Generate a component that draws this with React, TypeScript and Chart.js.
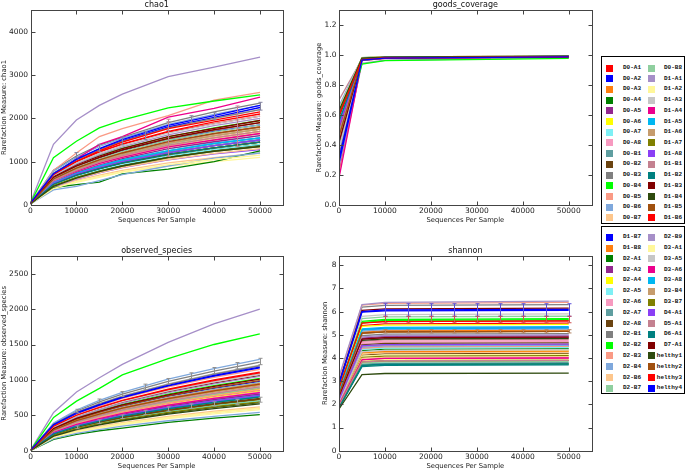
import React, { useEffect, useRef } from 'react';
import { Chart, registerables } from 'chart.js';

Chart.register(...registerables);

// ---------------- data ----------------
const sampleNames = [
  'D0-A1', 'D0-A2', 'D0-A3', 'D0-A4', 'D0-A5', 'D0-A6', 'D0-A7', 'D0-A8',
  'D0-B1', 'D0-B2', 'D0-B3', 'D0-B4', 'D0-B5', 'D0-B6', 'D0-B7', 'D0-B8',
  'D1-A1', 'D1-A2', 'D1-A3', 'D1-A4', 'D1-A5', 'D1-A6', 'D1-A7', 'D1-A8',
  'D1-B1', 'D1-B2', 'D1-B3', 'D1-B4', 'D1-B5', 'D1-B6', 'D1-B7', 'D1-B8',
  'D2-A1', 'D2-A3', 'D2-A4', 'D2-A5', 'D2-A6', 'D2-A7', 'D2-A8',
  'D2-B1', 'D2-B2', 'D2-B3', 'D2-B4', 'D2-B6', 'D2-B7', 'D2-B9',
  'D3-A1', 'D3-A5', 'D3-A6', 'D3-A8', 'D3-B4', 'D3-B7',
  'D4-A1', 'D5-A1', 'D6-A1', 'D7-A1',
  'helthy1', 'helthy2', 'helthy3', 'helthy4',
];

const seriesPalette = [
  '#ff0000', '#0000ff', '#ff7f0e', '#008000', '#93278f', '#ffff00', '#7ef0f5',
  '#f79ac0', '#5f9ea0', '#6b4411', '#808080', '#00ff00', '#fa9a85', '#7fa8dc',
  '#fdc68c', '#8fcf9f', '#a68fc8', '#fff79a', '#c6c6c6', '#ec008c', '#00b7f1',
  '#c69c6d', '#808000', '#8a3ff5', '#c48190', '#008080', '#800000', '#2e4a0e',
  '#a0500f',
];

// tick values
const depthTicks = [0, 10000, 20000, 30000, 40000, 50000];
const chao1Ticks = [0, 1000, 2000, 3000, 4000];
const goodsTicks = [0, 0.2, 0.4, 0.6, 0.8, 1.0, 1.2];
const observedTicks = [0, 500, 1000, 1500, 2000, 2500];
const shannonTicks = [0, 1, 2, 3, 4, 5, 6, 7, 8];

const chao1Depths = [10, 5000, 10000, 15000, 20000, 30000, 40000, 50000];
const chao1Values = [
  [40, 720, 1000, 1230, 1400, 1680, 1880, 2050],
  [35, 650, 900, 1080, 1260, 1500, 1700, 1850],
  [35, 600, 860, 1040, 1210, 1450, 1640, 1800],
  [30, 460, 650, 800, 930, 1130, 1280, 1400],
  [30, 500, 700, 860, 1000, 1210, 1370, 1500],
  [30, 560, 780, 940, 1090, 1330, 1500, 1650],
  [30, 530, 760, 920, 1060, 1290, 1460, 1600],
  [35, 580, 830, 1010, 1170, 1410, 1590, 1750],
  [30, 520, 730, 890, 1040, 1250, 1410, 1550],
  [30, 480, 680, 830, 960, 1170, 1320, 1450],
  [45, 800, 1130, 1380, 1560, 1900, 2150, 2350],
  [40, 680, 940, 1150, 1310, 1570, 1780, 1950],
  [50, 800, 1200, 1580, 1760, 2060, 2420, 2600],
  [45, 780, 1100, 1350, 1540, 1860, 2090, 2300],
  [25, 400, 570, 690, 800, 970, 1090, 1200],
  [35, 620, 880, 1070, 1240, 1500, 1690, 1850],
  [60, 1400, 1960, 2300, 2560, 2960, 3180, 3410],
  [30, 380, 520, 640, 760, 900, 1000, 1100],
  [40, 740, 1050, 1280, 1470, 1780, 2000, 2200],
  [45, 700, 1060, 1400, 1580, 2030, 2230, 2490],
  [30, 510, 740, 900, 1030, 1250, 1420, 1550],
  [35, 570, 810, 980, 1140, 1370, 1550, 1700],
  [30, 470, 690, 840, 970, 1170, 1320, 1450],
  [25, 420, 600, 740, 860, 1040, 1180, 1280],
  [35, 610, 860, 1040, 1200, 1450, 1640, 1800],
  [30, 490, 710, 870, 1000, 1210, 1370, 1500],
  [40, 650, 930, 1130, 1300, 1580, 1770, 1950],
  [28, 440, 640, 790, 920, 1120, 1260, 1380],
  [38, 640, 900, 1100, 1270, 1530, 1730, 1900],
  [40, 700, 1000, 1220, 1410, 1700, 1920, 2100],
  [45, 720, 1060, 1290, 1480, 1800, 2020, 2250],
  [35, 590, 840, 1010, 1170, 1420, 1600, 1750],
  [30, 400, 470, 530, 720, 830, 1000, 1250],
  [30, 540, 760, 930, 1070, 1300, 1460, 1600],
  [35, 560, 800, 980, 1140, 1380, 1550, 1700],
  [28, 460, 660, 810, 940, 1130, 1280, 1400],
  [33, 550, 780, 950, 1100, 1330, 1510, 1650],
  [30, 500, 710, 870, 1000, 1220, 1370, 1500],
  [29, 480, 690, 840, 970, 1170, 1320, 1450],
  [44, 730, 1040, 1270, 1470, 1780, 2000, 2200],
  [50, 1090, 1470, 1780, 1960, 2240, 2400, 2540],
  [34, 580, 810, 990, 1130, 1370, 1560, 1700],
  [25, 350, 430, 560, 700, 900, 1080, 1200],
  [26, 430, 610, 750, 870, 1050, 1190, 1300],
  [35, 600, 830, 1010, 1170, 1410, 1600, 1750],
  [40, 680, 950, 1160, 1340, 1620, 1830, 2000],
  [23, 380, 540, 660, 770, 930, 1050, 1150],
  [41, 690, 970, 1190, 1370, 1660, 1870, 2050],
  [33, 560, 780, 960, 1100, 1340, 1500, 1650],
  [31, 520, 730, 900, 1040, 1250, 1420, 1550],
  [35, 590, 830, 1010, 1170, 1420, 1600, 1750],
  [27, 450, 640, 780, 900, 1090, 1240, 1350],
  [30, 500, 710, 870, 1000, 1210, 1370, 1500],
  [34, 570, 800, 990, 1140, 1380, 1550, 1700],
  [29, 480, 690, 840, 970, 1170, 1320, 1450],
  [38, 640, 900, 1100, 1270, 1540, 1740, 1900],
  [27, 430, 620, 770, 900, 1100, 1240, 1350],
  [36, 600, 850, 1040, 1200, 1460, 1650, 1800],
  [43, 700, 1010, 1250, 1450, 1760, 1960, 2150],
  [46, 720, 1050, 1300, 1510, 1840, 2060, 2300],
];

const goodsDepths = [10, 5000, 10000, 50000];
const goodsValues = [
  [0.22, 0.970, 0.980, 0.988], [0.30, 0.972, 0.982, 0.989], [0.40, 0.972, 0.982, 0.989],
  [0.58, 0.978, 0.985, 0.991], [0.50, 0.975, 0.984, 0.990], [0.45, 0.974, 0.983, 0.990],
  [0.55, 0.975, 0.984, 0.990], [0.42, 0.973, 0.983, 0.989], [0.52, 0.975, 0.984, 0.990],
  [0.60, 0.977, 0.985, 0.991], [0.35, 0.965, 0.978, 0.987], [0.48, 0.968, 0.980, 0.988],
  [0.20, 0.962, 0.977, 0.986], [0.38, 0.965, 0.978, 0.987], [0.62, 0.980, 0.987, 0.992],
  [0.46, 0.970, 0.981, 0.988], [0.25, 0.945, 0.965, 0.982], [0.65, 0.980, 0.987, 0.992],
  [0.33, 0.966, 0.979, 0.987], [0.18, 0.964, 0.977, 0.986], [0.53, 0.976, 0.984, 0.990],
  [0.44, 0.972, 0.982, 0.989], [0.57, 0.977, 0.985, 0.991], [0.36, 0.978, 0.985, 0.991],
  [0.70, 0.972, 0.982, 0.989], [0.56, 0.976, 0.984, 0.990], [0.60, 0.968, 0.980, 0.988],
  [0.64, 0.978, 0.986, 0.991], [0.43, 0.970, 0.981, 0.988], [0.58, 0.968, 0.980, 0.988],
  [0.28, 0.966, 0.979, 0.987], [0.47, 0.971, 0.981, 0.989], [0.62, 0.982, 0.988, 0.992],
  [0.51, 0.975, 0.984, 0.990], [0.49, 0.974, 0.983, 0.990], [0.57, 0.977, 0.985, 0.991],
  [0.45, 0.974, 0.983, 0.989], [0.50, 0.976, 0.984, 0.990], [0.59, 0.977, 0.985, 0.991],
  [0.34, 0.966, 0.979, 0.987], [0.40, 0.940, 0.962, 0.978], [0.44, 0.973, 0.983, 0.989],
  [0.66, 0.981, 0.988, 0.992], [0.63, 0.980, 0.987, 0.992], [0.46, 0.972, 0.982, 0.989],
  [0.39, 0.968, 0.980, 0.988], [0.64, 0.980, 0.987, 0.992], [0.37, 0.967, 0.979, 0.988],
  [0.52, 0.974, 0.983, 0.990], [0.54, 0.976, 0.984, 0.990], [0.47, 0.972, 0.982, 0.989],
  [0.61, 0.978, 0.985, 0.991], [0.53, 0.976, 0.984, 0.990], [0.48, 0.973, 0.983, 0.989],
  [0.56, 0.976, 0.984, 0.990], [0.42, 0.969, 0.980, 0.988], [0.63, 0.979, 0.986, 0.992],
  [0.46, 0.971, 0.981, 0.989], [0.60, 0.968, 0.980, 0.988], [0.31, 0.966, 0.979, 0.987],
];

const observedDepths = [10, 5000, 10000, 15000, 20000, 30000, 40000, 50000];
const observedValues = [
  [8, 340, 490, 600, 700, 850, 980, 1090],
  [8, 300, 440, 540, 630, 770, 880, 980],
  [7, 290, 420, 510, 600, 730, 840, 930],
  [6, 220, 320, 390, 450, 550, 630, 700],
  [6, 235, 345, 420, 490, 595, 685, 760],
  [7, 265, 390, 480, 560, 680, 785, 870],
  [7, 255, 370, 450, 525, 640, 740, 820],
  [7, 280, 405, 495, 575, 705, 810, 900],
  [7, 250, 360, 440, 515, 625, 720, 800],
  [6, 230, 335, 410, 475, 580, 665, 740],
  [9, 380, 560, 690, 800, 980, 1125, 1250],
  [8, 315, 460, 560, 655, 800, 920, 1020],
  [9, 355, 520, 630, 740, 900, 1035, 1150],
  [9, 390, 575, 710, 825, 1010, 1160, 1290],
  [5, 190, 275, 335, 385, 470, 540, 600],
  [8, 300, 435, 530, 615, 750, 865, 960],
  [12, 540, 830, 1030, 1220, 1530, 1790, 2000],
  [5, 180, 265, 320, 370, 455, 520, 580],
  [9, 370, 545, 665, 775, 945, 1090, 1210],
  [7, 265, 385, 470, 545, 665, 765, 850],
  [6, 245, 355, 435, 505, 620, 710, 790],
  [7, 275, 395, 485, 565, 690, 795, 880],
  [6, 225, 325, 395, 460, 565, 650, 720],
  [7, 250, 365, 452, 528, 645, 738, 820],
  [8, 295, 430, 525, 610, 745, 855, 950],
  [6, 238, 342, 418, 488, 596, 684, 760],
  [8, 330, 478, 585, 680, 830, 955, 1060],
  [6, 212, 307, 375, 436, 532, 612, 680],
  [8, 308, 446, 545, 635, 775, 892, 990],
  [9, 342, 496, 606, 705, 860, 990, 1100],
  [9, 365, 528, 645, 750, 915, 1053, 1170],
  [7, 292, 424, 518, 602, 736, 846, 940],
  [5, 160, 232, 282, 320, 400, 460, 510],
  [6, 248, 362, 441, 512, 626, 720, 800],
  [7, 262, 380, 463, 538, 657, 756, 840],
  [6, 218, 316, 386, 448, 548, 630, 700],
  [7, 258, 375, 458, 532, 650, 747, 830],
  [6, 242, 352, 430, 500, 610, 702, 780],
  [6, 228, 330, 403, 468, 571, 657, 730],
  [9, 372, 542, 662, 768, 938, 1080, 1200],
  [10, 470, 700, 880, 1070, 1300, 1500, 1650],
  [7, 268, 388, 474, 551, 673, 774, 860],
  [5, 170, 245, 298, 346, 423, 486, 540],
  [5, 195, 281, 342, 398, 485, 558, 620],
  [7, 278, 402, 491, 570, 696, 801, 890],
  [8, 326, 474, 579, 672, 821, 945, 1050],
  [5, 188, 272, 331, 384, 469, 540, 600],
  [8, 335, 488, 596, 692, 845, 972, 1080],
  [7, 256, 371, 453, 526, 642, 738, 820],
  [6, 240, 348, 425, 494, 602, 693, 770],
  [7, 286, 416, 508, 590, 720, 828, 920],
  [6, 216, 312, 381, 442, 540, 621, 690],
  [6, 244, 352, 430, 500, 610, 702, 780],
  [7, 280, 406, 497, 577, 704, 810, 900],
  [6, 237, 343, 419, 487, 595, 684, 760],
  [8, 314, 456, 557, 647, 790, 909, 1010],
  [5, 206, 298, 364, 423, 516, 594, 660],
  [7, 293, 424, 518, 602, 735, 846, 940],
  [9, 345, 501, 612, 711, 868, 999, 1110],
  [9, 368, 533, 651, 756, 923, 1062, 1180],
];

const shannonDepths = [10, 5000, 10000, 50000];
const shannonValues = [
  [2.6, 5.52, 5.58, 5.60], [2.5, 5.22, 5.28, 5.30], [2.4, 5.12, 5.18, 5.20],
  [1.9, 3.68, 3.73, 3.75], [2.3, 4.86, 4.93, 4.95], [2.1, 4.22, 4.28, 4.30],
  [2.2, 4.52, 4.58, 4.60], [2.3, 4.62, 4.68, 4.70], [2.2, 4.42, 4.48, 4.50],
  [2.0, 4.12, 4.18, 4.20], [3.0, 6.20, 6.27, 6.30], [2.7, 5.58, 5.66, 5.70],
  [3.1, 6.28, 6.36, 6.40], [2.5, 5.16, 5.22, 5.25], [2.1, 4.17, 4.23, 4.25],
  [2.8, 5.70, 5.77, 5.80], [3.2, 6.30, 6.40, 6.45], [2.0, 4.08, 4.13, 4.15],
  [2.9, 5.80, 5.87, 5.90], [1.95, 3.93, 3.98, 4.00], [2.6, 5.26, 5.32, 5.35],
  [2.5, 5.06, 5.12, 5.15], [2.0, 4.03, 4.08, 4.10], [2.2, 4.47, 4.53, 4.55],
  [2.3, 4.72, 4.78, 4.80], [1.85, 3.63, 3.68, 3.70], [2.9, 6.05, 6.12, 6.15],
  [2.3, 4.76, 4.83, 4.85], [2.5, 5.07, 5.13, 5.15], [2.6, 5.40, 5.47, 5.50],
  [2.9, 6.00, 6.07, 6.10], [2.1, 4.23, 4.28, 4.30], [2.15, 4.32, 4.38, 4.40],
  [2.35, 4.82, 4.88, 4.90], [2.6, 5.36, 5.42, 5.45], [2.2, 4.37, 4.43, 4.45],
  [2.3, 4.67, 4.73, 4.75], [1.9, 3.73, 3.78, 3.80], [2.25, 4.57, 4.63, 4.65],
  [2.45, 4.96, 5.03, 5.05], [2.7, 5.52, 5.62, 5.65], [2.2, 4.42, 4.48, 4.50],
  [2.2, 4.48, 4.53, 4.55], [2.0, 3.98, 4.03, 4.05], [1.9, 3.78, 3.83, 3.85],
  [2.4, 4.91, 4.97, 5.00], [1.95, 3.88, 3.93, 3.95], [2.1, 4.27, 4.33, 4.35],
  [2.0, 3.92, 3.98, 4.00], [2.55, 5.21, 5.27, 5.30], [2.25, 4.52, 4.58, 4.60],
  [1.9, 3.83, 3.88, 3.90], [2.2, 4.53, 4.58, 4.60], [1.95, 3.83, 3.88, 3.90],
  [1.85, 3.68, 3.73, 3.75], [2.35, 4.81, 4.88, 4.90], [1.8, 3.28, 3.33, 3.35],
  [2.45, 5.07, 5.13, 5.15], [2.7, 5.50, 5.57, 5.60], [2.9, 5.98, 6.03, 6.05],
];

// error bars (depth, centre, half-length)
const errDepths = [10000, 15000, 20000, 25000, 30000, 35000, 40000, 45000, 50000];
const chao1ErrCentres = [1150, 1320, 1480, 1600, 1820, 1980, 2050, 2150, 2280];
const chao1ErrHalves = [60, 80, 90, 90, 100, 80, 80, 100, 90];
const chao1Err2Depths = [30000, 45000];
const chao1Err2Centres = [1550, 1820];
const chao1Err2Halves = [430, 465];
const observedErrCentres = [560, 700, 800, 900, 980, 1060, 1130, 1200, 1260];
const observedErrHalves = [25, 30, 35, 40, 40, 40, 45, 45, 45];
const observedErr2Centres = [330, 410, 480, 540, 590, 630, 660, 690, 720];
const observedErr2Halves = [20, 25, 25, 30, 30, 30, 30, 35, 35];
const shannonErrCentres = [6.07, 6.07, 6.07, 6.07, 6.07, 6.07, 6.07, 6.07, 6.07];
const shannonErrHalves = [0.27, 0.27, 0.27, 0.27, 0.27, 0.27, 0.27, 0.27, 0.27];
const shannonErr2Centres = [5.66, 5.66, 5.66, 5.66, 5.66, 5.66, 5.66, 5.66, 5.66];
const shannonErr2Halves = [0.14, 0.14, 0.14, 0.14, 0.14, 0.14, 0.14, 0.14, 0.14];
const shannonErr3Centres = [5.15, 5.15, 5.15, 5.15, 5.15, 5.15, 5.15, 5.15, 5.15];
const shannonErr3Halves = [0.07, 0.07, 0.07, 0.07, 0.07, 0.07, 0.07, 0.07, 0.07];

// ---------------- rendering ----------------
type ErrSet = { color: string; depths: number[]; centres: number[]; halves: number[] };

type PanelCfg = {
  title: string;
  yLabel: string;
  depths: number[];
  values: number[][];
  yMax: number;
  yTicks: number[];
  yDecimals: number;
  errs: ErrSet[];
  left: number;
  top: number;
  w: number;
  h: number;
  padTop: number;
  padRight: number;
  yW: number;
  xH: number;
  yTitlePad: number;
  xTitlePad: number;
};

const FONT = '"DejaVu Sans", sans-serif';

const framePlugin = {
  id: 'mplFrame',
  afterDatasetsDraw(chart: any, _args: any, opts: any) {
    const { ctx } = chart;
    const errs: ErrSet[] = opts.errs || [];
    const xs = chart.scales.x;
    const ys = chart.scales.y;
    ctx.save();
    ctx.lineWidth = 1;
    for (const e of errs) {
      ctx.strokeStyle = e.color;
      e.depths.forEach((d, k) => {
        const px = Math.round(xs.getPixelForValue(d)) + 0.5;
        const y1 = ys.getPixelForValue(e.centres[k] - e.halves[k]);
        const y2 = ys.getPixelForValue(e.centres[k] + e.halves[k]);
        ctx.beginPath();
        ctx.moveTo(px, y1);
        ctx.lineTo(px, y2);
        ctx.moveTo(px - 2, y1);
        ctx.lineTo(px + 2, y1);
        ctx.moveTo(px - 2, y2);
        ctx.lineTo(px + 2, y2);
        ctx.stroke();
      });
    }
    ctx.restore();
  },
  afterDraw(chart: any, _args: any, opts: any) {
    const { ctx, chartArea } = chart;
    const l = Math.round(chartArea.left) + 0.5;
    const r = Math.round(chartArea.right) + 0.5;
    const t = Math.round(chartArea.top) + 0.5;
    const b = Math.round(chartArea.bottom) + 0.5;
    ctx.save();
    ctx.strokeStyle = '#444';
    ctx.lineWidth = 1;
    ctx.strokeRect(l, t, r - l, b - t);
    const tl = 4;
    ctx.beginPath();
    for (const tk of chart.scales.x.ticks) {
      const px = Math.round(chart.scales.x.getPixelForValue(tk.value)) + 0.5;
      ctx.moveTo(px, b); ctx.lineTo(px, b - tl);
      ctx.moveTo(px, t); ctx.lineTo(px, t + tl);
    }
    for (const tk of chart.scales.y.ticks) {
      const py = Math.round(chart.scales.y.getPixelForValue(tk.value)) + 0.5;
      ctx.moveTo(l, py); ctx.lineTo(l + tl, py);
      ctx.moveTo(r, py); ctx.lineTo(r - tl, py);
    }
    ctx.stroke();
    ctx.fillStyle = '#111';
    ctx.font = `8px ${FONT}`;
    ctx.textAlign = 'center';
    ctx.textBaseline = 'middle';
    ctx.fillText(opts.title, (chartArea.left + chartArea.right) / 2, chartArea.top - 5);
    ctx.restore();
  },
};

function Panel({ cfg }: { cfg: PanelCfg }) {
  const ref = useRef<HTMLCanvasElement>(null);
  useEffect(() => {
    const datasets = cfg.values.map((vals, i) => ({
      label: sampleNames[i],
      data: cfg.depths.map((d, j) => ({ x: d, y: vals[j] })),
      borderColor: seriesPalette[i % seriesPalette.length],
      backgroundColor: seriesPalette[i % seriesPalette.length],
      borderWidth: 1.3,
      pointRadius: 0,
      tension: 0,
      fill: false,
      order: -i,
    }));
    const tickFont = { family: FONT, size: 7.5 };
    const titleFont = { family: FONT, size: 6.8 };
    const chart = new Chart(ref.current as HTMLCanvasElement, {
      type: 'line',
      data: { datasets },
      options: {
        animation: false,
        responsive: false,
        devicePixelRatio: 1,
        events: [],
        layout: { padding: { left: 0, top: cfg.padTop, right: cfg.padRight, bottom: 0 } },
        plugins: {
          legend: { display: false },
          tooltip: { enabled: false },
          title: { display: false },
          mplFrame: { title: cfg.title, errs: cfg.errs },
        } as any,
        scales: {
          x: {
            type: 'linear',
            min: 0,
            max: 55000,
            grid: { display: false, drawTicks: false },
            border: { display: false },
            afterBuildTicks: (s: any) => { s.ticks = depthTicks.map((v) => ({ value: v })); },
            ticks: {
              padding: 1.5,
              font: tickFont,
              color: '#222',
              maxRotation: 0,
              autoSkip: false,
              callback: (v: any) => String(v),
            },
            title: {
              display: true,
              text: 'Sequences Per Sample',
              font: titleFont,
              color: '#222',
              padding: { top: 0, bottom: cfg.xTitlePad },
            },
            afterFit: (s: any) => { s.height = cfg.xH; },
          },
          y: {
            type: 'linear',
            min: 0,
            max: cfg.yMax,
            grid: { display: false, drawTicks: false },
            border: { display: false },
            afterBuildTicks: (s: any) => { s.ticks = cfg.yTicks.map((v) => ({ value: v })); },
            ticks: {
              padding: 2.5,
              font: tickFont,
              color: '#222',
              autoSkip: false,
              callback: (v: any) => Number(v).toFixed(cfg.yDecimals),
            },
            title: {
              display: true,
              text: cfg.yLabel,
              font: titleFont,
              color: '#222',
              padding: { top: cfg.yTitlePad, bottom: 0 },
            },
            afterFit: (s: any) => { s.width = cfg.yW; },
          },
        },
      } as any,
      plugins: [framePlugin as any],
    });
    return () => chart.destroy();
  }, []);
  return (
    <canvas
      ref={ref}
      width={cfg.w}
      height={cfg.h}
      style={{ position: 'absolute', left: cfg.left, top: cfg.top, width: cfg.w, height: cfg.h }}
    />
  );
}

const panels: PanelCfg[] = [
  {
    title: 'chao1', yLabel: 'Rarefaction Measure: chao1', depths: chao1Depths, values: chao1Values,
    yMax: 4500, yTicks: chao1Ticks, yDecimals: 0,
    errs: [
      { color: '#8484a0', depths: errDepths, centres: chao1ErrCentres, halves: chao1ErrHalves },
      { color: '#c48190', depths: chao1Err2Depths, centres: chao1Err2Centres, halves: chao1Err2Halves },
    ],
    left: 0, top: 0, w: 300, h: 230, padTop: 10, padRight: 17, yW: 30.5, xH: 25, yTitlePad: 0, xTitlePad: 5.9,
  },
  {
    title: 'goods_coverage', yLabel: 'Rarefaction Measure: goods_coverage', depths: goodsDepths, values: goodsValues,
    yMax: 1.3, yTicks: goodsTicks, yDecimals: 1, errs: [],
    left: 300, top: 0, w: 300, h: 230, padTop: 10, padRight: 8.3, yW: 39, xH: 25, yTitlePad: 15, xTitlePad: 5.9,
  },
  {
    title: 'observed_species', yLabel: 'Rarefaction Measure: observed_species', depths: observedDepths, values: observedValues,
    yMax: 2750, yTicks: observedTicks, yDecimals: 0,
    errs: [
      { color: '#909090', depths: errDepths, centres: observedErrCentres, halves: observedErrHalves },
      { color: '#a0a0a0', depths: errDepths, centres: observedErr2Centres, halves: observedErr2Halves },
    ],
    left: 0, top: 240, w: 300, h: 231, padTop: 16, padRight: 17.3, yW: 30.7, xH: 20.3, yTitlePad: 0, xTitlePad: 0.9,
  },
  {
    title: 'shannon', yLabel: 'Rarefaction Measure: shannon', depths: shannonDepths, values: shannonValues,
    yMax: 8.4, yTicks: shannonTicks, yDecimals: 0,
    errs: [
      { color: '#5b4fd8', depths: errDepths, centres: shannonErrCentres, halves: shannonErrHalves },
      { color: '#d05050', depths: errDepths, centres: shannonErr2Centres, halves: shannonErr2Halves },
      { color: '#b08060', depths: errDepths, centres: shannonErr3Centres, halves: shannonErr3Halves },
    ],
    left: 300, top: 240, w: 300, h: 231, padTop: 16, padRight: 8.3, yW: 39, xH: 20.3, yTitlePad: 21, xTitlePad: 0.9,
  },
];

function LegendBox({ start, boxTop, boxHeight, rowTop, rowStep }: { start: number; boxTop: number; boxHeight: number; rowTop: number; rowStep: number }) {
  const items = [];
  for (let k = 0; k < 30; k++) {
    const i = start + k;
    const col = Math.floor(k / 15);
    const row = k % 15;
    const cy = rowTop + row * rowStep;
    items.push(
      <div key={'m' + i} style={{
        position: 'absolute', left: 606 + col * 41.7, top: cy - 3.5, width: 7, height: 7,
        background: seriesPalette[i % seriesPalette.length],
      }} />
    );
    items.push(
      <div key={'t' + i} style={{
        position: 'absolute', left: 610 + col * 41, width: 31, top: cy - 4, height: 8, lineHeight: '8px',
        textAlign: 'right',
        fontFamily: '"Liberation Mono", monospace', fontWeight: 'bold', fontSize: '6px', color: '#111',
        whiteSpace: 'nowrap',
      }}>{sampleNames[i]}</div>
    );
  }
  return (
    <>
      <div style={{
        position: 'absolute', left: 601, top: boxTop, width: 84, height: boxHeight,
        border: '1.5px solid #000', boxSizing: 'border-box', background: '#fff',
      }} />
      {items}
    </>
  );
}

export default function App() {
  return (
    <div style={{ position: 'absolute', left: 0, top: 0, width: 685, height: 471, background: '#fff', overflow: 'hidden' }}>
      {panels.map((p) => <Panel key={p.title} cfg={p} />)}
      <LegendBox start={0} boxTop={56} boxHeight={168} rowTop={68} rowStep={10.71} />
      <LegendBox start={30} boxTop={226} boxHeight={168} rowTop={237.3} rowStep={10.79} />
    </div>
  );
}
